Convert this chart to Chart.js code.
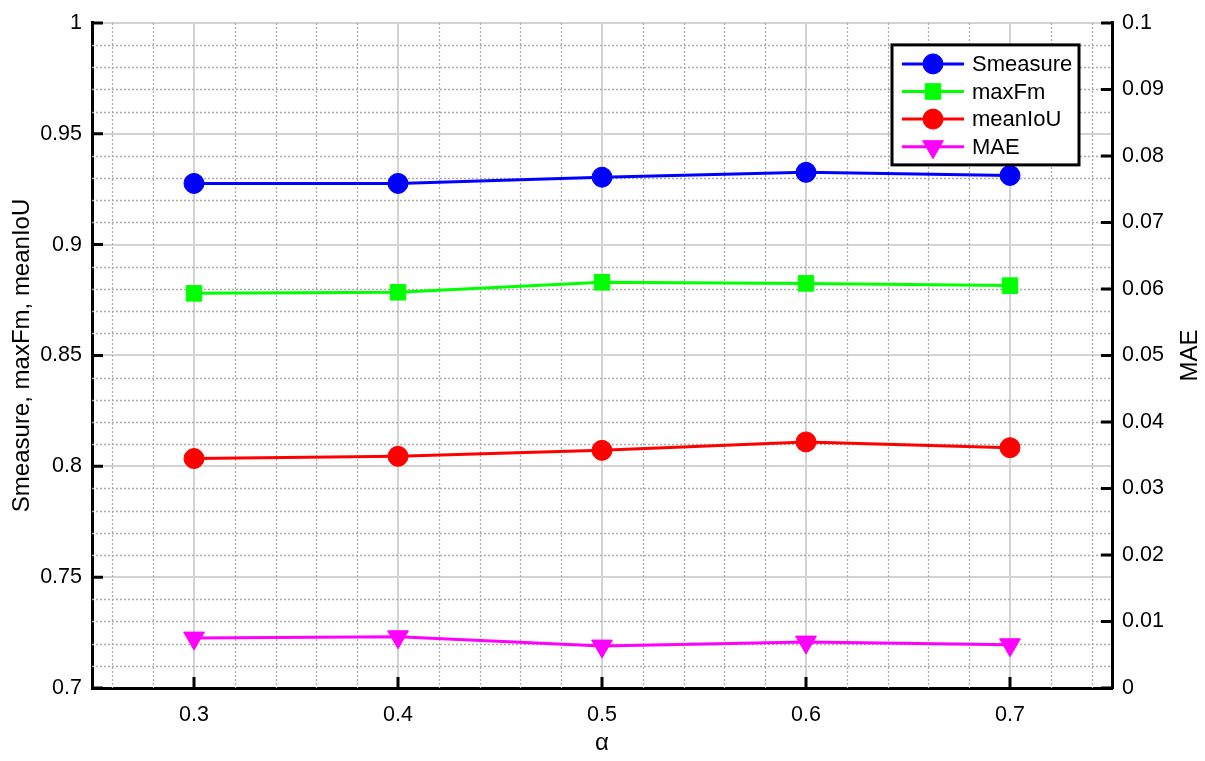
<!DOCTYPE html>
<html>
<head>
<meta charset="utf-8">
<script src="https://cdn.jsdelivr.net/npm/chart.js@4.4.1/dist/chart.umd.min.js"></script>
<style>
  html, body { margin: 0; background: #fff; }
  canvas { display: block; }
</style>
</head>
<body>
<canvas id="chart" width="1205" height="761"></canvas>
<script>
// values
const alphaValues = [0.3, 0.4, 0.5, 0.6, 0.7];
const smeasure = [0.9276, 0.9276, 0.9304, 0.9326, 0.9312];
const maxFm = [0.878, 0.8785, 0.883, 0.8825, 0.8815];
const meanIoU = [0.8035, 0.8045, 0.8072, 0.811, 0.8084];
const mae = [0.0075, 0.0077, 0.0063, 0.0069, 0.0065];

const xTicks = [0.3, 0.4, 0.5, 0.6, 0.7];
const leftTicks = [0.7, 0.75, 0.8, 0.85, 0.9, 0.95, 1];
const rightTicks = [0, 0.01, 0.02, 0.03, 0.04, 0.05, 0.06, 0.07, 0.08, 0.09, 0.1];

const FONT = "'Liberation Sans', Arial, Helvetica, sans-serif";
Chart.defaults.font.family = FONT;
Chart.defaults.font.size = 21.5;
Chart.defaults.color = '#000';

const titleFont = { size: 24 };
const fmt = v => String(parseFloat(Number(v).toFixed(4)));
const toPoints = arr => arr.map((v, i) => ({ x: alphaValues[i], y: v }));

function series(label, values, color, style, radius, axis, rotation) {
  return {
    label: label,
    data: toPoints(values),
    yAxisID: axis,
    borderColor: color,
    backgroundColor: color,
    pointBackgroundColor: color,
    pointBorderColor: color,
    pointStyle: style,
    pointRadius: radius,
    pointRotation: rotation || 0,
    pointBorderWidth: 1,
    borderWidth: 3,
    tension: 0
  };
}

// dotted minor grid like MATLAB "grid minor"
const minorGrid = {
  id: 'minorGrid',
  beforeDatasetsDraw(chart) {
    const { ctx, chartArea: a, scales: { x, y } } = chart;
    ctx.save();
    ctx.strokeStyle = '#ababab';
    ctx.lineWidth = 1.3;
    ctx.setLineDash([2, 2]);
    ctx.beginPath();
    for (let i = 0; i < 25; i++) {
      const v = 0.26 + 0.02 * i;
      if (Math.abs(v * 10 - Math.round(v * 10)) < 1e-6) continue;
      const px = Math.round(x.getPixelForValue(v)) + 0.5;
      ctx.moveTo(px, a.top);
      ctx.lineTo(px, a.bottom);
    }
    for (let i = 1; i < 30; i++) {
      if (i % 5 === 0) continue;
      const py = Math.round(y.getPixelForValue(0.7 + 0.01 * i)) + 0.5;
      ctx.moveTo(a.left, py);
      ctx.lineTo(a.right, py);
    }
    ctx.stroke();
    ctx.restore();
  }
};

// tick marks pointing into the plot, legend box, right-hand label
const decorations = {
  id: 'decorations',
  afterDraw(chart) {
    const { ctx, chartArea: a, scales: { x, y, y1 } } = chart;
    ctx.save();
    ctx.strokeStyle = '#000';
    ctx.lineWidth = 3;
    ctx.beginPath();
    x.ticks.forEach(t => {
      const px = x.getPixelForValue(t.value);
      ctx.moveTo(px, a.bottom);
      ctx.lineTo(px, a.bottom - 11);
    });
    y.ticks.forEach(t => {
      const py = y.getPixelForValue(t.value);
      ctx.moveTo(a.left, py);
      ctx.lineTo(a.left + 11, py);
    });
    y1.ticks.forEach(t => {
      const py = y1.getPixelForValue(t.value);
      ctx.moveTo(a.right, py);
      ctx.lineTo(a.right - 11, py);
    });
    ctx.stroke();

    // legend
    const boxW = 187, boxH = 120;
    const bx = a.right - 33 - boxW, by = a.top + 22;
    ctx.fillStyle = '#fff';
    ctx.fillRect(bx, by, boxW, boxH);
    ctx.lineWidth = 3;
    ctx.strokeRect(bx, by, boxW, boxH);
    ctx.font = '22px ' + FONT;
    ctx.textBaseline = 'middle';
    ctx.textAlign = 'left';
    chart.data.datasets.forEach((ds, i) => {
      const cy = by + 19 + i * 27.6;
      ctx.strokeStyle = ds.borderColor;
      ctx.lineWidth = 3;
      ctx.beginPath();
      ctx.moveTo(bx + 10, cy);
      ctx.lineTo(bx + 72, cy);
      ctx.stroke();
      ctx.fillStyle = ds.pointBackgroundColor;
      ctx.lineWidth = 1;
      Chart.helpers.drawPoint(ctx, {
        pointStyle: ds.pointStyle,
        radius: ds.pointRadius,
        rotation: ds.pointRotation,
        borderWidth: 1
      }, bx + 41, cy);
      ctx.fillStyle = '#000';
      ctx.fillText(ds.label, bx + 80, cy + 1);
    });

    // right axis title, reading bottom to top
    ctx.font = '24px ' + FONT;
    ctx.translate(1190, (a.top + a.bottom) / 2);
    ctx.rotate(-Math.PI / 2);
    ctx.textAlign = 'center';
    ctx.fillStyle = '#000';
    ctx.fillText('MAE', 0, 0);
    ctx.restore();
  }
};

new Chart(document.getElementById('chart'), {
  type: 'line',
  data: {
    datasets: [
      series('Smeasure', smeasure, '#0000ff', 'circle', 10, 'y'),
      series('maxFm', maxFm, '#00ff00', 'rect', 11, 'y'),
      series('meanIoU', meanIoU, '#ff0000', 'circle', 10, 'y'),
      series('MAE', mae, '#ff00ff', 'triangle', 12, 'y1', 180)
    ]
  },
  options: {
    responsive: false,
    animation: false,
    events: [],
    layout: { padding: { top: 18, left: 0, right: 0, bottom: 0 } },
    plugins: { legend: { display: false }, tooltip: { enabled: false } },
    scales: {
      x: {
        type: 'linear',
        min: 0.25,
        max: 0.75,
        afterBuildTicks: axis => { axis.ticks = xTicks.map(v => ({ value: v })); },
        afterFit: axis => { axis.height = 73; },
        ticks: { callback: fmt, padding: 14, maxRotation: 0, autoSkip: false },
        grid: { color: '#d3d3d3', lineWidth: 2, drawTicks: false },
        border: { color: '#000', width: 3 },
        title: { display: true, text: 'α', font: titleFont, padding: { top: 0, bottom: 3 } }
      },
      y: {
        position: 'left',
        min: 0.7,
        max: 1,
        afterBuildTicks: axis => { axis.ticks = leftTicks.map(v => ({ value: v })); },
        afterFit: axis => { axis.width = 92; },
        ticks: { callback: fmt, padding: 10, autoSkip: false },
        grid: { color: '#d3d3d3', lineWidth: 2, drawTicks: false },
        border: { color: '#000', width: 3 },
        title: { display: true, text: 'Smeasure, maxFm, meanIoU', font: titleFont, padding: { top: 8, bottom: 0 } }
      },
      y1: {
        position: 'right',
        min: 0,
        max: 0.1,
        afterBuildTicks: axis => { axis.ticks = rightTicks.map(v => ({ value: v })); },
        afterFit: axis => { axis.width = 93; },
        ticks: { callback: fmt, padding: 10, autoSkip: false },
        grid: { display: true, drawOnChartArea: false, drawTicks: false },
        border: { color: '#000', width: 3 }
      }
    }
  },
  plugins: [minorGrid, decorations]
});
</script>
</body>
</html>
